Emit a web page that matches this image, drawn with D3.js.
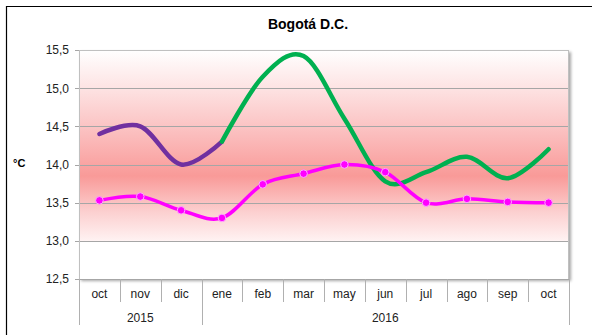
<!DOCTYPE html>
<html>
<head>
<meta charset="utf-8">
<script src="https://cdn.jsdelivr.net/npm/d3@7"></script>
<style>
  html, body { margin: 0; padding: 0; background: #fff; }
  svg { display: block; font-family: "Liberation Sans", Arial, sans-serif; }
</style>
</head>
<body>
<svg id="chart" width="592" height="335"></svg>
<script>
// Monthly mean temperature, Bogotá D.C.
const months = ["oct", "nov", "dic", "ene", "feb", "mar", "may", "jun", "jul", "ago", "sep", "oct"];
const years = [
  { label: "2015", from: 0, to: 3 },
  { label: "2016", from: 3, to: 12 }
];
const series2015 = [14.4, 14.5, 14.0, 14.3, null, null, null, null, null, null, null, null];
const series2016 = [null, null, null, 14.3, 15.15, 15.42, 14.6, 13.78, 13.9, 14.1, 13.82, 14.2];
const reference = [13.53, 13.58, 13.4, 13.3, 13.74, 13.88, 14.0, 13.9, 13.5, 13.55, 13.51, 13.5];
const yTicks = [12.5, 13.0, 13.5, 14.0, 14.5, 15.0, 15.5];

const svg = d3.select("#chart");
const plot = { left: 79, top: 50, right: 569, bottom: 279 };

const x = d3.scaleBand().domain(d3.range(months.length)).range([plot.left, plot.right]);
const y = d3.scaleLinear().domain([12.5, 15.5]).range([plot.bottom, plot.top]);
const cx = i => x(i) + x.bandwidth() / 2;

// chart frame
svg.append("line").attr("x1", 6).attr("x2", 592).attr("y1", 6.5).attr("y2", 6.5)
  .attr("stroke", "#000").attr("stroke-width", 1.2);
svg.append("line").attr("x1", 6.5).attr("x2", 6.5).attr("y1", 6).attr("y2", 335)
  .attr("stroke", "#000").attr("stroke-width", 1.2);

const defs = svg.append("defs");
const grad = defs.append("linearGradient").attr("id", "band")
  .attr("x1", 0).attr("x2", 0).attr("y1", 0).attr("y2", 1);
[[0, "#ffffff"], [0.2, "#fde3e3"], [0.45, "#fbbcbc"], [0.66, "#f99a98"], [0.85, "#fcd0d0"], [1, "#fff2f2"]]
  .forEach(([o, c]) => grad.append("stop").attr("offset", o).attr("stop-color", c));
const shadow = defs.append("filter").attr("id", "shadow")
  .attr("x", "-5%").attr("y", "-5%").attr("width", "115%").attr("height", "115%");
shadow.append("feDropShadow").attr("dx", 2).attr("dy", 2).attr("stdDeviation", 1.5)
  .attr("flood-color", "#000").attr("flood-opacity", 0.35);

// plot area with shadow
svg.append("rect")
  .attr("x", plot.left).attr("y", plot.top)
  .attr("width", plot.right - plot.left).attr("height", plot.bottom - plot.top)
  .attr("fill", "#fff").attr("filter", "url(#shadow)");
svg.append("rect")
  .attr("x", plot.left).attr("y", y(15.5))
  .attr("width", plot.right - plot.left).attr("height", y(13.0) - y(15.5))
  .attr("fill", "url(#band)");

// grid lines
svg.append("g").selectAll("line").data(yTicks).join("line")
  .attr("x1", plot.left - 4).attr("x2", plot.right)
  .attr("y1", d => Math.round(y(d)) + 0.5).attr("y2", d => Math.round(y(d)) + 0.5)
  .attr("stroke", "#a6a6a6").attr("stroke-width", 1);
svg.append("rect")
  .attr("x", plot.left + 0.5).attr("y", plot.top + 0.5)
  .attr("width", plot.right - plot.left - 1).attr("height", plot.bottom - plot.top)
  .attr("fill", "none").attr("stroke", "#c0c0c0");

// y axis
const yAxis = d3.axisLeft(y).tickValues(yTicks).tickSize(0).tickPadding(10)
  .tickFormat(d => d3.format(".1f")(d).replace(".", ","));
const gy = svg.append("g").attr("transform", `translate(${plot.left},0)`).call(yAxis);
gy.select(".domain").remove();
gy.selectAll("text").attr("font-size", 12).attr("fill", "#222")
  .attr("font-family", "Liberation Sans, Arial, sans-serif");

svg.append("text").attr("x", 13).attr("y", 167).text("°C")
  .attr("font-size", 11).attr("font-weight", "bold").attr("fill", "#000");

// title
svg.append("text").attr("x", 308).attr("y", 29).attr("text-anchor", "middle")
  .attr("font-size", 14).attr("font-weight", "bold").attr("fill", "#000")
  .text("Bogotá D.C.");

// multi-level category axis
const xAxis = svg.append("g");
xAxis.append("line").attr("x1", plot.left).attr("x2", plot.right)
  .attr("y1", plot.bottom + 0.5).attr("y2", plot.bottom + 0.5).attr("stroke", "#a6a6a6");
xAxis.selectAll(".msep").data(d3.range(1, months.length)).join("line")
  .attr("x1", i => Math.round(x(i)) + 0.5).attr("x2", i => Math.round(x(i)) + 0.5)
  .attr("y1", plot.bottom).attr("y2", 302)
  .attr("stroke", "#b0b0b0");
const yearEdges = [0, 3, 12];
xAxis.selectAll(".ysep").data(yearEdges).join("line")
  .attr("x1", i => Math.round(i === 12 ? plot.right : x(i)) + 0.5)
  .attr("x2", i => Math.round(i === 12 ? plot.right : x(i)) + 0.5)
  .attr("y1", plot.bottom).attr("y2", 325)
  .attr("stroke", "#b0b0b0");
xAxis.selectAll(".mlab").data(months).join("text")
  .attr("x", (d, i) => cx(i)).attr("y", 298).attr("text-anchor", "middle")
  .attr("font-size", 12).attr("fill", "#222").text(d => d);
xAxis.selectAll(".ylab").data(years).join("text")
  .attr("x", d => (x(d.from) + (d.to === 12 ? plot.right : x(d.to))) / 2)
  .attr("y", 322).attr("text-anchor", "middle")
  .attr("font-size", 12).attr("fill", "#222").text(d => d.label);

// series
const line = d3.line()
  .defined(d => d != null)
  .x((d, i) => cx(i))
  .y(d => y(d))
  .curve(d3.curveCardinal.tension(0));

svg.append("path").datum(series2015).attr("d", line)
  .attr("fill", "none").attr("stroke", "#7030a0").attr("stroke-width", 4.5)
  .attr("stroke-linecap", "round");
svg.append("path").datum(series2016).attr("d", line)
  .attr("fill", "none").attr("stroke", "#00b050").attr("stroke-width", 4.5)
  .attr("stroke-linecap", "round");
svg.append("path").datum(reference).attr("d", line)
  .attr("fill", "none").attr("stroke", "#ff00ff").attr("stroke-width", 3.5);
svg.append("g").selectAll("circle").data(reference).join("circle")
  .attr("cx", (d, i) => cx(i)).attr("cy", d => y(d)).attr("r", 3.8)
  .attr("fill", "#ff00ff").attr("stroke", "#ffa6ff").attr("stroke-width", 1);
</script>
</body>
</html>
